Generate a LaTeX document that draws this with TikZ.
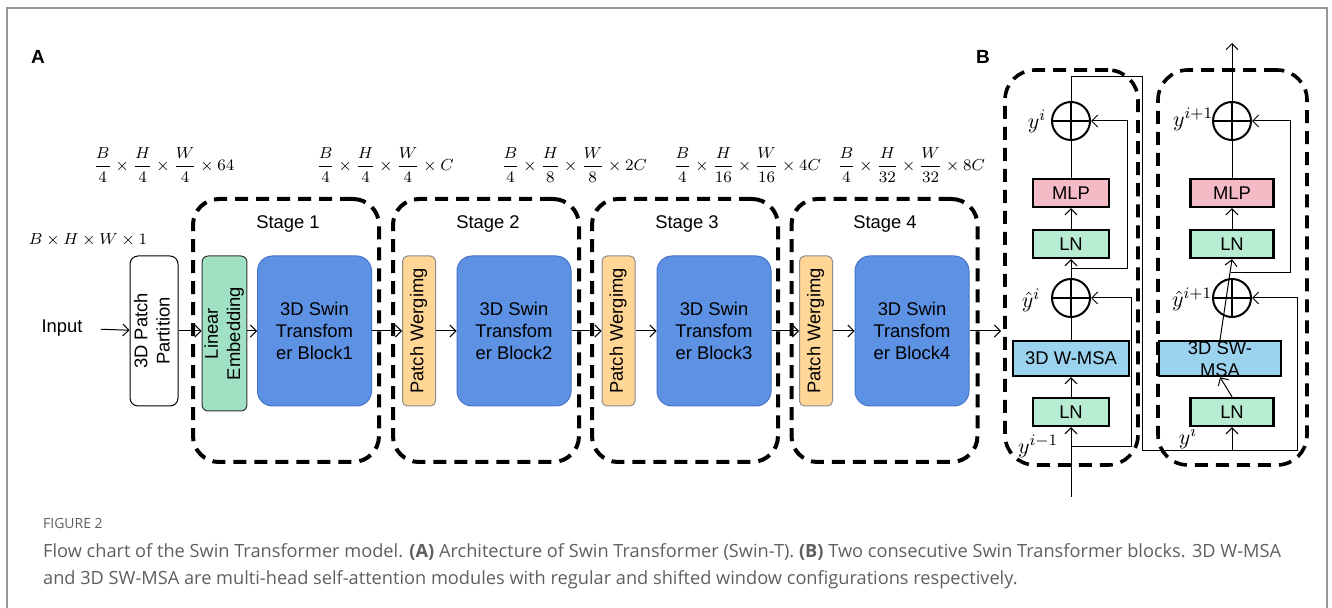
\documentclass[tikz,border=0pt]{standalone}
\usepackage{amsmath}
\usepackage{fontspec}
\setmainfont{Liberation Sans}
\newfontfamily\capfont{Open Sans}
\usetikzlibrary{arrows.meta,
  positioning
}
\definecolor{swinblue}{RGB}{93,145,228}
\definecolor{swinblueline}{RGB}{70,115,200}
\definecolor{embgreen}{RGB}{160,225,195}
\definecolor{mergeorange}{RGB}{255,214,150}
\definecolor{mlppink}{RGB}{244,186,198}
\definecolor{lngreen}{RGB}{184,236,210}
\definecolor{msablue}{RGB}{155,211,238}
\definecolor{capgray}{RGB}{95,95,95}
\definecolor{framegray}{RGB}{150,150,150}
\newcommand{\vtext}[1]{\rotatebox{90}{\begin{tabular}{@{}c@{}}#1\end{tabular}}}

\begin{document}
\begin{tikzpicture}[x=0.5pt,y=-0.5pt,line width=0.5pt,
        >={Straight Barb[length=3pt,width=6pt]},
        font=\fontsize{9.2}{11.2}\selectfont,
        stagebox/.style={draw, line width=2pt, dash pattern=on 6.5pt off 4pt, rounded corners=13pt, minimum width=93pt, minimum height=131.5pt},
        swinblock/.style={draw=swinblueline, fill=swinblue, rounded corners=7.5pt, minimum width=57pt, minimum height=75pt, inner sep=0pt, align=center},
        mergebox/.style={draw=black!45, fill=mergeorange, rounded corners=2.5pt, minimum width=16.5pt, minimum height=75pt, inner sep=0pt},
        partbox/.style={draw, rounded corners=4pt, minimum width=24pt, minimum height=75pt, inner sep=0pt},
        embbox/.style={draw=black!80, fill=embgreen, rounded corners=3pt, minimum width=21.5pt, minimum height=77.5pt, inner sep=0pt},
        blockbox/.style={draw, line width=1.8pt, dash pattern=on 6.5pt off 4pt, rounded corners=15pt},
        layerbox/.style={draw, line width=1.2pt, minimum height=14pt, inner sep=0pt},
        addnode/.style={circle, draw, line width=1pt, minimum size=19pt, inner sep=0pt,
          path picture={\draw[line width=1pt] (path picture bounding box.north) -- (path picture bounding box.south)
            (path picture bounding box.west) -- (path picture bounding box.east);}},
        dimlabel/.style={font=\fontsize{8.5}{10}\selectfont},
        ylabel/.style={font=\fontsize{11}{13}\selectfont, inner sep=0pt},
      ]
      \useasboundingbox (0,0) rectangle (1332,608);
      % Frame
      \draw[framegray, line width=0.8pt] (7,608) -- (7,8) -- (1327,8) -- (1327,608);

      % Nodes (A)
      \node[font=\bfseries\fontsize{9.5}{11}\selectfont] (labA) at (38,57) {A};
      \node[font=\bfseries\fontsize{9.5}{11}\selectfont] (labB) at (983,57) {B};

      \node[dimlabel] (dimin) at (88,240) {$B\times H\times W\times 1$};
      \node[dimlabel] (dim0) at (164,165) {$\dfrac{B}{4}\times\dfrac{H}{4}\times\dfrac{W}{4}\times 64$};
      \node[dimlabel] (dim1) at (385,165) {$\dfrac{B}{4}\times\dfrac{H}{4}\times\dfrac{W}{4}\times C$};
      \node[dimlabel] (dim2) at (574,165) {$\dfrac{B}{4}\times\dfrac{H}{8}\times\dfrac{W}{8}\times 2C$};
      \node[dimlabel] (dim3) at (747,165) {$\dfrac{B}{4}\times\dfrac{H}{16}\times\dfrac{W}{16}\times 4C$};
      \node[dimlabel] (dim4) at (911,165) {$\dfrac{B}{4}\times\dfrac{H}{32}\times\dfrac{W}{32}\times 8C$};

      \node[stagebox] (stage1) at (286,330.5) {};
      \node[stagebox] (stage2) at (486,330.5) {};
      \node[stagebox] (stage3) at (685,330.5) {};
      \node[stagebox] (stage4) at (884.5,330.5) {};
      \node (stagetext1) at (288,224) {Stage 1};
      \node (stagetext2) at (488,224) {Stage 2};
      \node (stagetext3) at (687,224) {Stage 3};
      \node (stagetext4) at (885,224) {Stage 4};

      \node[inner xsep=9pt] (input) at (62,328) {Input};
      \node[partbox] (partition) at (154,331) {\vtext{3D Patch\\Partition}};
      \node[embbox] (embedding) at (224.5,333.5) {\vtext{Linear\\Embedding}};
      \node[swinblock] (block1) at (314.5,331) {3D Swin\\Transfom\\er Block1};
      \node[mergebox] (merge2) at (419,331) {\vtext{Patch Wergimg}};
      \node[swinblock] (block2) at (514,331) {3D Swin\\Transfom\\er Block2};
      \node[mergebox] (merge3) at (618.5,331) {\vtext{Patch Wergimg}};
      \node[swinblock] (block3) at (714,331) {3D Swin\\Transfom\\er Block3};
      \node[mergebox] (merge4) at (816,331) {\vtext{Patch Wergimg}};
      \node[swinblock] (block4) at (912,331) {3D Swin\\Transfom\\er Block4};
      \coordinate (outA) at (1001,331);

      % Lines (A)
      \draw[->] (input) -- (partition);
      \draw[->] (partition) -- (embedding.west |- partition);
      \draw[->] (embedding.east |- block1) -- (block1);
      \draw[->] (block1) -- (merge2);
      \draw[->] (merge2) -- (block2);
      \draw[->] (block2) -- (merge3);
      \draw[->] (merge3) -- (block3);
      \draw[->] (block3) -- (merge4);
      \draw[->] (merge4) -- (block4);
      \draw[->] (block4) -- (outA);

      % Nodes (B)
      \node[blockbox, minimum width=66.5pt, minimum height=197.5pt] (swinA) at (1071.5,267.5) {};
      \node[blockbox, minimum width=74.5pt, minimum height=197.5pt] (swinB) at (1232.5,267.5) {};

      \node[layerbox, fill=lngreen, minimum width=38pt] (lnA0) at (1071,412) {LN};
      \node[layerbox, fill=msablue, minimum width=58pt, minimum height=17.5pt] (wmsa) at (1071,358.5) {3D W-MSA};
      \node[addnode] (addA0) at (1071,298) {};
      \node[layerbox, fill=lngreen, minimum width=38pt] (lnA1) at (1071,244) {LN};
      \node[layerbox, fill=mlppink, minimum width=38pt] (mlpA) at (1071,193) {MLP};
      \node[addnode] (addA1) at (1071,121) {};

      \node[layerbox, fill=lngreen, minimum width=41.5pt] (lnB0) at (1232,412) {LN};
      \node[layerbox, fill=msablue, minimum width=61pt, minimum height=17.5pt] (swmsa) at (1220,358.5) {};
      \node[addnode] (addB0) at (1232,298) {};
      \node[align=center, inner sep=0pt] (swmsatext) at (1220,359) {3D SW-\\MSA};
      \node[layerbox, fill=lngreen, minimum width=41.5pt] (lnB1) at (1232,244) {LN};
      \node[layerbox, fill=mlppink, minimum width=41.5pt] (mlpB) at (1232,193) {MLP};
      \node[addnode] (addB1) at (1232,121) {};

      \node[ylabel] (yA1) at (1037,121) {$y^i$};
      \node[ylabel] (yhA0) at (1031,300) {$\hat{y}^i$};
      \node[ylabel] (yA0) at (1038,446) {$y^{i-1}$};
      \node[ylabel] (yB1) at (1193,119) {$y^{i+1}$};
      \node[ylabel] (yhB0) at (1192,299) {$\hat{y}^{i+1}$};
      \node[ylabel] (yB0) at (1188,437) {$y^i$};

      \coordinate (inB) at (1071,497);
      \coordinate (brA) at (1071,447);
      \coordinate (brB) at (1071,269);
      \coordinate (brC) at (1232,451);
      \coordinate (brD) at (1231,273);
      \coordinate (outB) at (1232,43);

      % Lines (B)
      \draw[->] (inB) -- (lnA0);
      \draw[->] (lnA0) -- (wmsa);
      \draw (wmsa) -- (addA0);
      \draw[->] (addA0) -- (lnA1);
      \draw[->] (lnA1) -- (mlpA);
      \draw (mlpA) -- (addA1);
      \draw[->] (brA) -- (1131,447) |- (addA0.east);
      \draw[->] (brB) -- (1127,269) |- (addA1.east);
      \draw[->] (addA1.north) |- (1142,77) -- (1142,451) -- (1297,451) |- (addB0.east);
      \draw[->] (brC) -- (lnB0);
      \draw[->] (lnB0.north) -- (swmsa.south);
      \draw[->] (swmsa.north) -- (lnB1.south);
      \draw[->] (brD) -- (1290,273) |- (addB1.east);
      \draw[->] (lnB1) -- (mlpB);
      \draw (mlpB) -- (addB1);
      \draw[->] (addB1) -- (outB);

      % Caption
      \node[anchor=west, text=capgray, font=\capfont\fontsize{7}{8}\selectfont] (figno) at (36,523) {FIGURE 2};
      \node[anchor=west, text=capgray, font=\capfont\fontsize{9.1}{11}\selectfont] (capline1) at (36,552)
        {Flow chart of the Swin Transformer model. {\bfseries(A)} Architecture of Swin Transformer (Swin-T). {\bfseries(B)} Two consecutive Swin Transformer blocks. 3D W-MSA};
      \node[anchor=west, text=capgray, font=\capfont\fontsize{9.1}{11}\selectfont] (capline2) at (36,580)
        {and 3D SW-MSA are multi-head self-attention modules with regular and shifted window configurations respectively.};
    \end{tikzpicture}
\end{document}
